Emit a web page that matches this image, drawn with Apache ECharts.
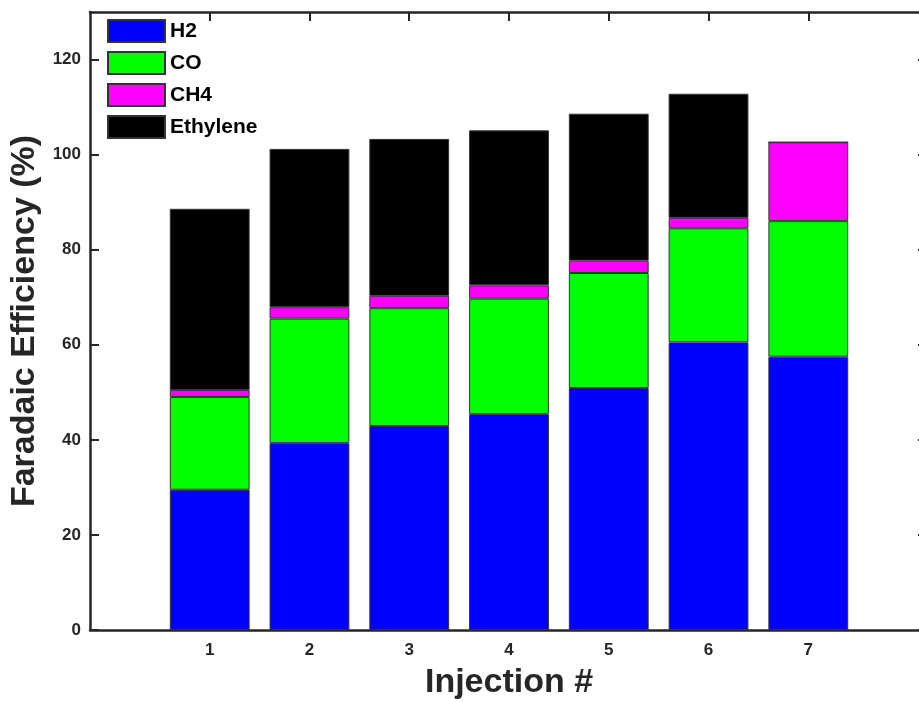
<!DOCTYPE html>
<html>
<head>
<meta charset="utf-8">
<script src="https://cdn.jsdelivr.net/npm/echarts@6/dist/echarts.min.js"></script>
<style>
html,body{margin:0;padding:0;background:#fff;overflow:hidden;}
#chart{width:940px;height:702px;}
</style>
</head>
<body>
<div id="chart"></div>
<script>
const injections = ['1', '2', '3', '4', '5', '6', '7'];
const tickPositions = [1, 2, 3, 4, 5, 6, 7];
const h2 = [29.5, 39.3, 42.9, 45.4, 50.9, 60.5, 57.5];
const co = [19.5, 26.2, 24.8, 24.3, 24.2, 24.0, 28.5];
const ch4 = [1.5, 2.4, 2.6, 2.8, 2.6, 2.2, 16.6];
const ethylene = [38.1, 33.3, 33.0, 32.6, 30.9, 26.1, 0];
const yTicks = [0, 20, 40, 60, 80, 100, 120];
const seriesNames = ['H2', 'CO', 'CH4', 'Ethylene'];
const seriesColors = ['#0000ff', '#00ff00', '#ff00ff', '#000000'];
const seriesValues = [h2, co, ch4, ethylene];

const axisColor = '#262626';
const font = 'Liberation Sans, Arial, sans-serif';

// frame axis range (MATLAB-like limits)
const xMin = -0.2, xMax = 8.2, yMin = 0, yMax = 130;
const frameLeft = 90, frameTop = 12, frameWidth = 838, frameHeight = 618;
const unit = frameWidth / (xMax - xMin);
const barsLeft = frameLeft + (0.5 - xMin) * unit;
const barsWidth = injections.length * unit;

const chart = echarts.init(document.getElementById('chart'), null, {renderer: 'canvas'});

const series = seriesNames.map((name, i) => ({
  name: name,
  type: 'bar',
  stack: 'fe',
  barWidth: '80%',
  xAxisIndex: 2,
  yAxisIndex: 2,
  itemStyle: {color: seriesColors[i], borderColor: '#333333', borderWidth: 1},
  emphasis: {disabled: true},
  data: seriesValues[i]
}));

const hiddenAxis = {show: false};

const option = {
  animation: false,
  backgroundColor: '#ffffff',
  grid: [
    {left: frameLeft, top: frameTop, width: frameWidth, height: frameHeight, containLabel: false, outerBoundsMode: 'none'},
    {left: barsLeft, top: frameTop, width: barsWidth, height: frameHeight, containLabel: false, outerBoundsMode: 'none'}
  ],
  legend: {
    orient: 'vertical',
    left: 107,
    top: 19,
    padding: 0,
    itemWidth: 57,
    itemHeight: 22,
    itemGap: 8,
    icon: 'rect',
    data: seriesNames,
    textStyle: {fontFamily: font, fontWeight: 'bold', fontSize: 21, color: '#000000'}
  },
  xAxis: [{
    type: 'value',
    gridIndex: 0,
    min: xMin,
    max: xMax,
    position: 'bottom',
    name: 'Injection #',
    nameLocation: 'middle',
    nameGap: 36,
    nameTextStyle: {fontFamily: font, fontWeight: 'bold', fontSize: 34, color: axisColor},
    axisLine: {show: true, onZero: false, lineStyle: {color: axisColor, width: 2.5}},
    axisTick: {show: true, inside: true, length: 9, customValues: tickPositions, lineStyle: {color: axisColor, width: 2}},
    axisLabel: {show: true, customValues: tickPositions, margin: 12, fontFamily: font, fontWeight: 'bold', fontSize: 17, color: axisColor},
    splitLine: {show: false}
  }, {
    type: 'value',
    gridIndex: 0,
    min: xMin,
    max: xMax,
    position: 'top',
    axisLine: {show: true, onZero: false, lineStyle: {color: axisColor, width: 2.5}},
    axisTick: {show: true, inside: true, length: 9, customValues: tickPositions, lineStyle: {color: axisColor, width: 2}},
    axisLabel: {show: false},
    splitLine: {show: false}
  }, {
    type: 'category',
    gridIndex: 1,
    data: injections,
    boundaryGap: true,
    axisLine: hiddenAxis,
    axisTick: hiddenAxis,
    axisLabel: hiddenAxis,
    splitLine: hiddenAxis
  }],
  yAxis: [{
    type: 'value',
    gridIndex: 0,
    min: yMin,
    max: yMax,
    position: 'left',
    name: 'Faradaic Efficiency (%)',
    nameLocation: 'middle',
    nameGap: 46,
    nameTextStyle: {fontFamily: font, fontWeight: 'bold', fontSize: 34, color: axisColor},
    axisLine: {show: true, onZero: false, lineStyle: {color: axisColor, width: 2.5}},
    axisTick: {show: true, inside: true, length: 9, customValues: yTicks, lineStyle: {color: axisColor, width: 2}},
    axisLabel: {show: true, customValues: yTicks, margin: 9, fontFamily: font, fontWeight: 'bold', fontSize: 17, color: axisColor},
    splitLine: {show: false}
  }, {
    type: 'value',
    gridIndex: 0,
    min: yMin,
    max: yMax,
    position: 'right',
    axisLine: {show: true, onZero: false, lineStyle: {color: axisColor, width: 2.5}},
    axisTick: {show: true, inside: true, length: 10, customValues: yTicks, lineStyle: {color: axisColor, width: 2}},
    axisLabel: {show: false},
    splitLine: {show: false}
  }, {
    type: 'value',
    gridIndex: 1,
    min: yMin,
    max: yMax,
    axisLine: hiddenAxis,
    axisTick: hiddenAxis,
    axisLabel: hiddenAxis,
    splitLine: hiddenAxis
  }],
  series: series
};

chart.setOption(option);
</script>
</body>
</html>
